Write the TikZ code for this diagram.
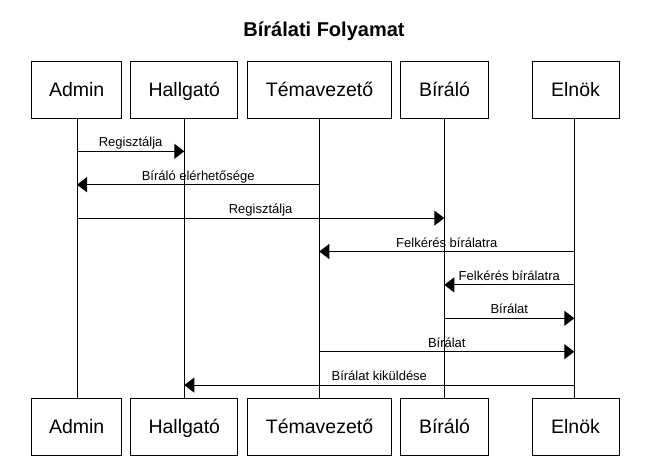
\documentclass[tikz,border=0pt]{standalone}
\usepackage{fontspec}
\setmainfont{Liberation Sans}
\usetikzlibrary{arrows.meta}
\begin{document}
\begin{tikzpicture}[x=1pt,y=-1pt,
  actor/.style={draw=black, line width=1pt, fill=white, rectangle, inner sep=0pt,
    minimum height=57pt, text height=14pt, text depth=0pt,
    font=\fontsize{19.5pt}{22pt}\selectfont},
  life/.style={draw=black, line width=1pt},
  msg/.style={draw=black, line width=1pt, -{Triangle[length=10pt,width=15pt]}},
  lbl/.style={anchor=base, inner sep=0pt, font=\fontsize{13pt}{15pt}\selectfont}]
\useasboundingbox[fill=white] (0,0) rectangle (662,466);
\node[font=\fontsize{20pt}{24pt}\bfseries\selectfont, anchor=base] (title) at (324,36) {Bírálati Folyamat};
% top actors
\node[actor, minimum width=90pt]  (adT) at (76.7,89.5) {Admin};
\node[actor, minimum width=107pt] (haT) at (184.3,89.5) {Hallgató};
\node[actor, minimum width=144pt] (teT) at (319.5,89.5) {Témavezető};
\node[actor, minimum width=88pt]  (biT) at (444.5,89.5) {Bíráló};
\node[actor, minimum width=87pt]  (elT) at (575.5,89.5) {Elnök};
% bottom actors
\node[actor, minimum width=90pt]  (adB) at (76.7,426.5) {Admin};
\node[actor, minimum width=107pt] (haB) at (184.3,426.5) {Hallgató};
\node[actor, minimum width=144pt] (teB) at (319.5,426.5) {Témavezető};
\node[actor, minimum width=88pt]  (biB) at (444.5,426.5) {Bíráló};
\node[actor, minimum width=87pt]  (elB) at (575.5,426.5) {Elnök};
% lifeline x positions
\coordinate (adX) at (77,0);
\coordinate (haX) at (184.3,0);
\coordinate (teX) at (319.3,0);
\coordinate (biX) at (444.3,0);
\coordinate (elX) at (574.3,0);
\draw[life] (adX |- adT.south) -- (adX |- adB.north);
\draw[life] (haX |- haT.south) -- (haX |- haB.north);
\draw[life] (teX |- teT.south) -- (teX |- teB.north);
\draw[life] (biX |- biT.south) -- (biX |- biB.north);
\draw[life] (elX |- elT.south) -- (elX |- elB.north);
% message rows
\coordinate (m1) at (0,151.3);
\coordinate (m2) at (0,184.7);
\coordinate (m3) at (0,218.1);
\coordinate (m4) at (0,251.5);
\coordinate (m5) at (0,284.9);
\coordinate (m6) at (0,318.3);
\coordinate (m7) at (0,351.7);
\coordinate (m8) at (0,385.1);
\draw[msg] (adX |- m1) -- (haX |- m1) node[lbl, midway, yshift=4.5pt] {Regisztálja};
\draw[msg] (teX |- m2) -- (adX |- m2) node[lbl, midway, yshift=4.5pt] {Bíráló elérhetősége};
\draw[msg] (adX |- m3) -- (biX |- m3) node[lbl, midway, yshift=4.5pt] {Regisztálja};
\draw[msg] (elX |- m4) -- (teX |- m4) node[lbl, midway, yshift=4.5pt] {Felkérés bírálatra};
\draw[msg] (elX |- m5) -- (biX |- m5) node[lbl, midway, yshift=4.5pt] {Felkérés bírálatra};
\draw[msg] (biX |- m6) -- (elX |- m6) node[lbl, midway, yshift=4.5pt] {Bírálat};
\draw[msg] (teX |- m7) -- (elX |- m7) node[lbl, midway, yshift=4.5pt] {Bírálat};
\draw[msg] (elX |- m8) -- (haX |- m8) node[lbl, midway, yshift=4.5pt] {Bírálat kiküldése};
\end{tikzpicture}
\end{document}
